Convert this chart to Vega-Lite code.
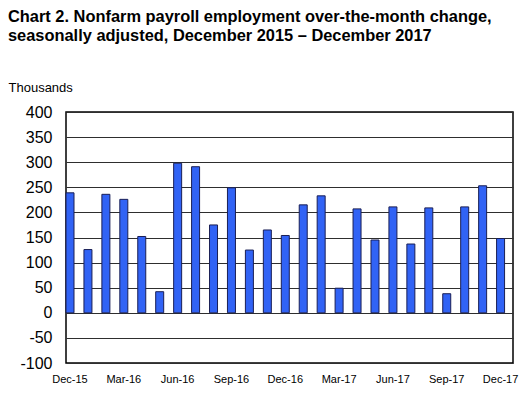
{
  "$schema": "https://vega.github.io/schema/vega-lite/v6.json",
  "autosize": "none",
  "width": 447,
  "height": 251,
  "padding": {"left": 66, "top": 112, "right": 18, "bottom": 35},
  "background": "white",
  "title": {
    "text": ["Chart 2. Nonfarm payroll employment over-the-month change,", "seasonally adjusted, December 2015 \u2013 December 2017"],
    "anchor": "start",
    "frame": "group",
    "dx": -58,
    "font": "Liberation Sans",
    "fontSize": 16.4,
    "fontWeight": "bold",
    "color": "#000000",
    "lineHeight": 19,
    "offset": 37
  },
  "data": {
    "values": [
      {"month": "Dec-15", "change": 239},
      {"month": "Jan-16", "change": 126},
      {"month": "Feb-16", "change": 236},
      {"month": "Mar-16", "change": 226},
      {"month": "Apr-16", "change": 152},
      {"month": "May-16", "change": 42},
      {"month": "Jun-16", "change": 298},
      {"month": "Jul-16", "change": 291},
      {"month": "Aug-16", "change": 175},
      {"month": "Sep-16", "change": 249},
      {"month": "Oct-16", "change": 125},
      {"month": "Nov-16", "change": 165},
      {"month": "Dec-16", "change": 154},
      {"month": "Jan-17", "change": 215},
      {"month": "Feb-17", "change": 233},
      {"month": "Mar-17", "change": 49},
      {"month": "Apr-17", "change": 207},
      {"month": "May-17", "change": 145},
      {"month": "Jun-17", "change": 211},
      {"month": "Jul-17", "change": 137},
      {"month": "Aug-17", "change": 209},
      {"month": "Sep-17", "change": 38},
      {"month": "Oct-17", "change": 211},
      {"month": "Nov-17", "change": 253},
      {"month": "Dec-17", "change": 148}
    ]
  },
  "mark": {"type": "bar", "fill": "#3163f5", "stroke": "#1a1f55", "strokeWidth": 1},
  "encoding": {
    "x": {
      "field": "month",
      "type": "ordinal",
      "sort": null,
      "scale": {"paddingInner": 0.554, "paddingOuter": 0.235, "align": 0},
      "axis": {
        "title": null,
        "values": ["Dec-15", "Mar-16", "Jun-16", "Sep-16", "Dec-16", "Mar-17", "Jun-17", "Sep-17", "Dec-17"],
        "labelAngle": 0,
        "ticks": false,
        "domain": false,
        "labelFont": "Liberation Sans",
        "labelFontSize": 11,
        "labelColor": "#000000",
        "labelPadding": 10,
        "labelDx": 4
      }
    },
    "y": {
      "field": "change",
      "type": "quantitative",
      "scale": {"domain": [-100, 400], "nice": false},
      "axis": {
        "values": [-100, -50, 0, 50, 100, 150, 200, 250, 300, 350, 400],
        "labelExpr": "'' + datum.value",
        "title": "Thousands",
        "titleAngle": 0,
        "titleAlign": "left",
        "titleBaseline": "alphabetic",
        "titleX": -58,
        "titleY": -21,
        "titleFont": "Liberation Sans",
        "titleFontSize": 13,
        "titleFontWeight": "normal",
        "titleColor": "#000000",
        "labelFont": "Liberation Sans",
        "labelFontSize": 16,
        "labelColor": "#000000",
        "labelPadding": 14,
        "ticks": false,
        "domain": false,
        "grid": true,
        "gridColor": "#2e2e2e",
        "gridWidth": 1,
        "gridOpacity": 1
      }
    }
  },
  "config": {
    "view": {"stroke": "#000000", "strokeWidth": 1.5}
  }
}
